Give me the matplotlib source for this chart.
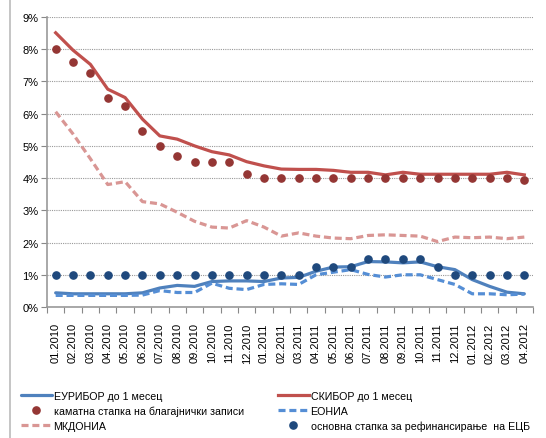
import matplotlib
matplotlib.use("Agg")
import matplotlib.pyplot as plt
from matplotlib.lines import Line2D

months = ["01.2010", "02.2010", "03.2010", "04.2010", "05.2010", "06.2010", "07.2010",
          "08.2010", "09.2010", "10.2010", "11.2010", "12.2010", "01.2011", "02.2011",
          "03.2011", "04.2011", "05.2011", "06.2011", "07.2011", "08.2011", "09.2011",
          "10.2011", "11.2011", "12.2011", "01.2012", "02.2012", "03.2012", "04.2012"]

euribor = [0.44, 0.41, 0.41, 0.41, 0.41, 0.44, 0.59, 0.67, 0.64, 0.79, 0.81, 0.81, 0.79, 0.90,
           0.92, 1.11, 1.24, 1.25, 1.41, 1.40, 1.37, 1.40, 1.25, 1.16, 0.85, 0.64, 0.46, 0.41]
skibor = [8.51, 7.97, 7.53, 6.76, 6.50, 5.83, 5.31, 5.21, 5.00, 4.82, 4.72, 4.51, 4.38, 4.28,
          4.27, 4.27, 4.24, 4.18, 4.18, 4.10, 4.18, 4.12, 4.12, 4.12, 4.12, 4.12, 4.18, 4.10]
tbills = [8.00, 7.60, 7.25, 6.50, 6.24, 5.47, 5.00, 4.69, 4.51, 4.50, 4.50, 4.13, 4.00, 4.00,
          4.00, 4.00, 4.00, 4.00, 4.00, 4.00, 4.00, 4.00, 4.00, 4.00, 4.00, 4.00, 4.00, 3.95]
eonia = [0.36, 0.36, 0.36, 0.36, 0.36, 0.37, 0.51, 0.45, 0.45, 0.74, 0.58, 0.54, 0.70, 0.72,
         0.70, 1.00, 1.08, 1.16, 1.01, 0.93, 1.00, 1.00, 0.85, 0.70, 0.41, 0.41, 0.38, 0.40]
mkdonia = [6.06, 5.37, 4.60, 3.80, 3.89, 3.27, 3.20, 2.94, 2.66, 2.48, 2.45, 2.68, 2.48, 2.20,
           2.30, 2.20, 2.14, 2.12, 2.22, 2.24, 2.22, 2.20, 2.03, 2.17, 2.15, 2.17, 2.12, 2.17]
ecb = [1.00, 1.00, 1.00, 1.00, 1.00, 1.00, 1.00, 1.00, 1.00, 1.00, 1.00, 1.00, 1.00, 1.00,
       1.00, 1.25, 1.25, 1.25, 1.50, 1.50, 1.50, 1.50, 1.25, 1.00, 1.00, 1.00, 1.00, 1.00]

labels = ["ЕУРИБОР до 1 месец", "СКИБОР до 1 месец", "каматна стапка на благајнички записи",
          "ЕОНИА", "МКДОНИА", "основна стапка за рефинансирање  на ЕЦБ"]

plt.rcParams['font.family'] = ['Liberation Sans', 'DejaVu Sans']
fig = plt.figure(figsize=(5.46, 4.39), dpi=100)
ax = fig.add_axes([47/546, 1-308/439, 486/546, 290/439])

x = list(range(len(months)))
lw = 2.3
h_eur, = ax.plot(x, euribor, color="#4F81BD", lw=lw, solid_capstyle='round')
h_sk, = ax.plot(x, skibor, color="#C0504D", lw=lw)
h_tb, = ax.plot(x, tbills, ls='none', marker='o', ms=5.2, color="#943634")
h_eo, = ax.plot(x, eonia, color="#558ED5", lw=lw, ls=(0, (2.2, 1.2)))
h_mk, = ax.plot(x, mkdonia, color="#D99694", lw=lw, ls=(0, (2.2, 1.2)))
h_ecb, = ax.plot(x, ecb, ls='none', marker='o', ms=5.2, color="#1F497D")

ax.set_xlim(-0.5, len(months) - 0.5)
ax.set_ylim(0, 9)
ax.set_yticks(range(0, 10))
ax.set_yticklabels([f"{v}%" for v in range(0, 10)], fontsize=8)
ax.yaxis.grid(True, color="#999999", ls=(0, (1, 1)), lw=0.8)
ax.set_axisbelow(True)

ax.set_xticks([i - 0.5 for i in range(len(months) + 1)])
ax.set_xticklabels([])
ax.set_xticks(x, minor=True)
ax.set_xticklabels(months, minor=True, rotation=90, fontsize=8)
ax.tick_params(axis='x', which='major', length=4, color="#888888", direction='out')
ax.tick_params(axis='x', which='minor', length=0, pad=11)
ax.tick_params(axis='y', length=4, color="#888888", pad=2)

for s in ['top', 'right']:
    ax.spines[s].set_visible(False)
for s in ['left', 'bottom']:
    ax.spines[s].set_color("#999999")
    ax.spines[s].set_linewidth(1.2)

handles = [h_eur, h_tb, h_mk, h_sk, h_eo, h_ecb]
lbls = [labels[0], labels[2], labels[4], labels[1], labels[3], labels[5]]
leg = fig.legend(handles, lbls, loc='lower left', bbox_to_anchor=(14/546, 0.0), ncol=2,
                 frameon=False, fontsize=7.7, handlelength=2.9, handletextpad=0.15,
                 labelspacing=0.45, columnspacing=3.2, borderaxespad=0.25)

fig.add_artist(Line2D([10/546, 10/546], [0, 1], color="#BBBBBB", lw=1.2, transform=fig.transFigure))

fig.savefig("out.png", dpi=100)
